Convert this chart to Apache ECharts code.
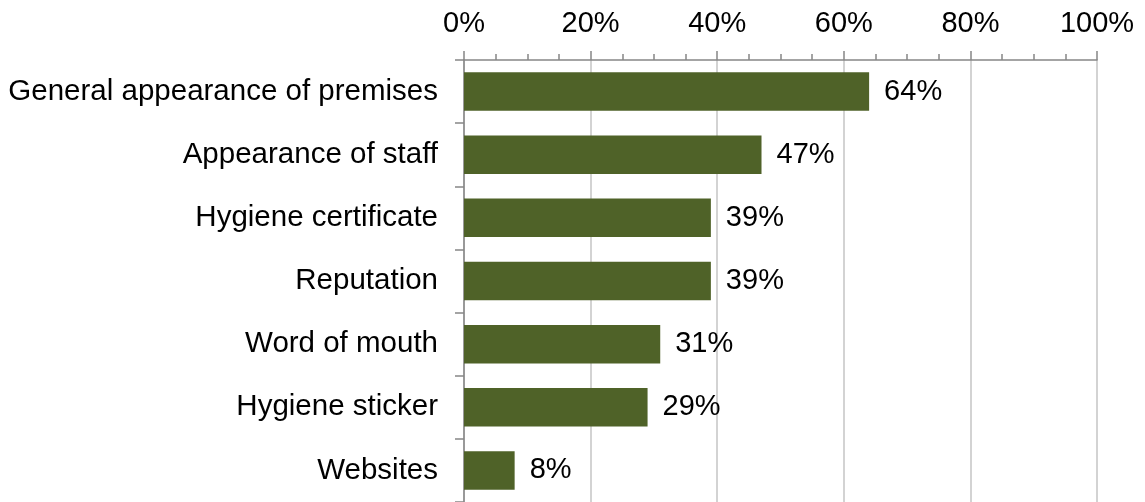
<!DOCTYPE html>
<html>
<head>
<meta charset="utf-8">
<script src="https://cdn.jsdelivr.net/npm/echarts@6/dist/echarts.min.js"></script>
<style>
  html, body { margin: 0; padding: 0; background: #ffffff; }
  #chart { width: 1145px; height: 502px; }
</style>
</head>
<body>
<div id="chart"></div>
<script>
// Sources used when judging a food premises (share of respondents, %)
const categories = [
  'General appearance of premises',
  'Appearance of staff',
  'Hygiene certificate',
  'Reputation',
  'Word of mouth',
  'Hygiene sticker',
  'Websites'
];
const shares = [64, 47, 39, 39, 31, 29, 8];
const tickStep = 20;

const FONT = 'Liberation Sans, Arial, sans-serif';

const chart = echarts.init(document.getElementById('chart'), null, { renderer: 'canvas' });

chart.setOption({
  animation: false,
  backgroundColor: '#ffffff',
  grid: { left: 464, right: 48, top: 60, height: 444, containLabel: false },
  xAxis: {
    type: 'value',
    position: 'top',
    min: 0,
    max: 100,
    interval: tickStep,
    axisLine: { show: true, lineStyle: { color: '#868686', width: 1.5 } },
    axisTick: { show: true, inside: false, length: 9, lineStyle: { color: '#868686', width: 1.5 } },
    minorTick: { show: true, splitNumber: 4, length: 6, lineStyle: { color: '#868686', width: 1.5 } },
    splitLine: { show: true, lineStyle: { color: '#c4c4c4', width: 1.5 } },
    axisLabel: {
      margin: 22,
      color: '#000000',
      fontFamily: FONT,
      fontSize: 29,
      formatter: v => v + '%'
    }
  },
  yAxis: {
    type: 'category',
    inverse: true,
    data: categories,
    axisLine: { show: true, lineStyle: { color: '#868686', width: 1.5 } },
    axisTick: { show: true, length: 9, lineStyle: { color: '#868686', width: 1.5 } },
    splitLine: { show: false },
    axisLabel: {
      margin: 26,
      color: '#000000',
      fontFamily: FONT,
      fontSize: 29.5
    }
  },
  series: [{
    type: 'bar',
    data: shares,
    barCategoryGap: '39%',
    itemStyle: { color: '#4f6228' },
    label: {
      show: true,
      position: 'right',
      distance: 15,
      color: '#000000',
      fontFamily: FONT,
      fontSize: 29,
      formatter: p => p.value + '%'
    }
  }]
});
</script>
</body>
</html>
